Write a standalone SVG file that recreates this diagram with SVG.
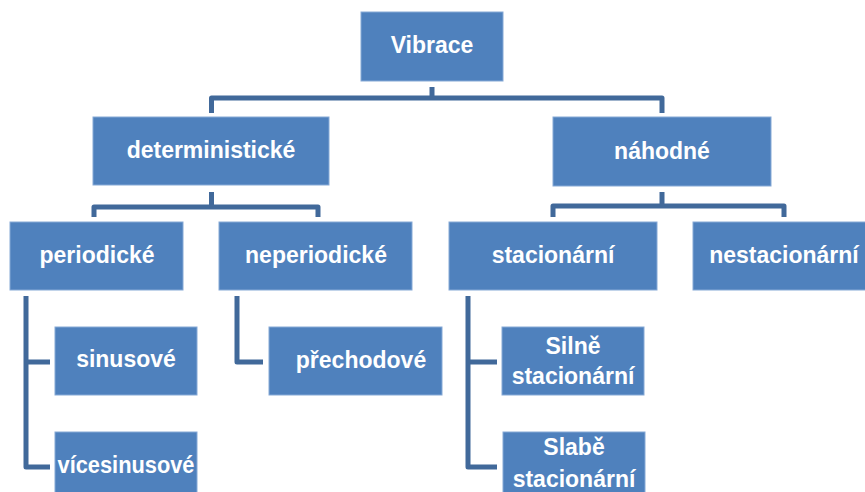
<svg xmlns="http://www.w3.org/2000/svg" width="865" height="492" viewBox="0 0 865 492">
<style>
.box{fill:#4F81BD;stroke:#86A9D6;stroke-width:1}
.lbl{font-family:"Liberation Sans",Arial,sans-serif;font-weight:bold;font-size:23px;fill:#FFFFFF;text-anchor:middle}
.con{fill:none;stroke:#41699A;stroke-width:5;stroke-linejoin:round}
</style>
<rect width="865" height="492" fill="#FFFFFF"/>
<g id="connectors">
<path class="con" d="M432,87 V98 M211.5,113 V98 H662 V113"/>
<path class="con" d="M211.5,192 V207 M94,217 V207 H318 V217"/>
<path class="con" d="M662,192 V206 M553,217 V206 H784 V217"/>
<path class="con" d="M26,296 V467 H50 M26,362 H50"/>
<path class="con" d="M237,296 V362 H263"/>
<path class="con" d="M468,296 V467 H497 M468,362 H497"/>
</g>
<g id="vibrace"><rect class="box" x="361" y="12" width="142" height="69"/><text class="lbl" x="432" y="53">Vibrace</text></g>
<g id="deterministicke"><rect class="box" x="93" y="117" width="236" height="68"/><text class="lbl" x="211" y="158">deterministické</text></g>
<g id="nahodne"><rect class="box" x="553" y="117" width="218" height="69"/><text class="lbl" x="662" y="159">náhodné</text></g>
<g id="periodicke"><rect class="box" x="10" y="222" width="173" height="68"/><text class="lbl" x="97" y="263">periodické</text></g>
<g id="neperiodicke"><rect class="box" x="219" y="222" width="193" height="68"/><text class="lbl" x="316" y="263">neperiodické</text></g>
<g id="stacionarni"><rect class="box" x="449" y="222" width="208" height="68"/><text class="lbl" x="553" y="263">stacionární</text></g>
<g id="nestacionarni"><rect class="box" x="693" y="222" width="180" height="68"/><text class="lbl" x="784" y="263">nestacionární</text></g>
<g id="sinusove"><rect class="box" x="55" y="327" width="142" height="68"/><text class="lbl" x="126" y="367">sinusové</text></g>
<g id="vicesinusove"><rect class="box" x="55" y="432" width="142" height="68"/><text class="lbl" x="126" y="473" textLength="137" lengthAdjust="spacingAndGlyphs">vícesinusové</text></g>
<g id="prechodove"><rect class="box" x="269" y="327" width="173" height="68"/><text class="lbl" x="361" y="368">přechodové</text></g>
<g id="silne"><rect class="box" x="502" y="327" width="142" height="68"/><text class="lbl" x="573" y="354">Silně</text><text class="lbl" x="573" y="384">stacionární</text></g>
<g id="slabe"><rect class="box" x="503" y="432" width="142" height="68"/><text class="lbl" x="574" y="455">Slabě</text><text class="lbl" x="574" y="487">stacionární</text></g>
</svg>
